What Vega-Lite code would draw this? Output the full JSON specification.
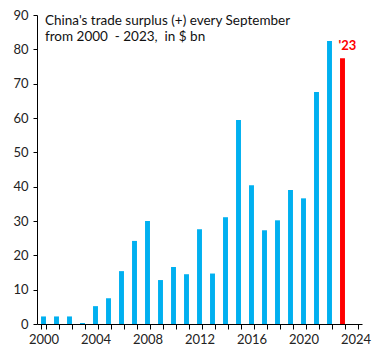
{
  "$schema": "https://vega.github.io/schema/vega-lite/v6.json",
  "width": 325,
  "height": 309,
  "autosize": {"type": "none"},
  "padding": {"left": 37, "top": 15, "right": 22, "bottom": 36},
  "background": "white",
  "config": {"view": {"stroke": null}, "font": "Lato"},
  "title": {
    "text": ["China's trade surplus (+) every September", "from 2000\u00a0 - 2023,\u00a0 in $ bn"],
    "anchor": "start",
    "frame": "group",
    "orient": "top",
    "offset": -34,
    "dx": 8,
    "font": "Lato",
    "fontSize": 13.5,
    "fontWeight": "normal",
    "color": "#111",
    "lineHeight": 16
  },
  "data": {
    "values": [
      {"year": 2000, "surplus": 2.2},
      {"year": 2001, "surplus": 2.2},
      {"year": 2002, "surplus": 2.2},
      {"year": 2003, "surplus": 0.3},
      {"year": 2004, "surplus": 5.2},
      {"year": 2005, "surplus": 7.5},
      {"year": 2006, "surplus": 15.4},
      {"year": 2007, "surplus": 24.2},
      {"year": 2008, "surplus": 30.0},
      {"year": 2009, "surplus": 12.8},
      {"year": 2010, "surplus": 16.6},
      {"year": 2011, "surplus": 14.5},
      {"year": 2012, "surplus": 27.6},
      {"year": 2013, "surplus": 14.7},
      {"year": 2014, "surplus": 31.1},
      {"year": 2015, "surplus": 59.4},
      {"year": 2016, "surplus": 40.4},
      {"year": 2017, "surplus": 27.3},
      {"year": 2018, "surplus": 30.2},
      {"year": 2019, "surplus": 39.0},
      {"year": 2020, "surplus": 36.6},
      {"year": 2021, "surplus": 67.6},
      {"year": 2022, "surplus": 82.4},
      {"year": 2023, "surplus": 77.4}
    ]
  },
  "encoding": {
    "x": {
      "field": "year",
      "type": "ordinal",
      "scale": {
        "domain": [2000,2001,2002,2003,2004,2005,2006,2007,2008,2009,2010,2011,2012,2013,2014,2015,2016,2017,2018,2019,2020,2021,2022,2023,2024],
        "paddingInner": 0.62,
        "paddingOuter": 0.31
      },
      "axis": {
        "title": null,
        "labelAngle": 0,
        "labelExpr": "datum.value % 4 === 0 ? datum.value : ''",
        "tickBand": "extent",
        "tickSize": 5,
        "tickColor": "#000",
        "domainColor": "#000",
        "labelColor": "#222",
        "labelFontSize": 13,
        "labelPadding": 4,
        "labelFont": "Lato"
      }
    },
    "y": {
      "field": "surplus",
      "type": "quantitative",
      "scale": {"domain": [0, 90], "nice": false},
      "axis": {
        "title": null,
        "values": [0,10,20,30,40,50,60,70,80,90],
        "grid": false,
        "tickSize": 4,
        "tickColor": "#000",
        "domainColor": "#000",
        "labelColor": "#222",
        "labelFontSize": 13,
        "labelPadding": 5,
        "labelFont": "Lato"
      }
    }
  },
  "layer": [
    {
      "mark": {"type": "bar"},
      "encoding": {
        "color": {
          "condition": {"test": "datum.year === 2023", "value": "#FF0000"},
          "value": "#00B0F0"
        }
      }
    },
    {
      "transform": [{"filter": "datum.year === 2023"}],
      "mark": {"type": "text", "text": "'23", "color": "#FF0000", "fontWeight": "bold", "fontSize": 13, "baseline": "bottom", "align": "center", "dx": 5, "dy": -5, "font": "Lato"}
    }
  ]
}
